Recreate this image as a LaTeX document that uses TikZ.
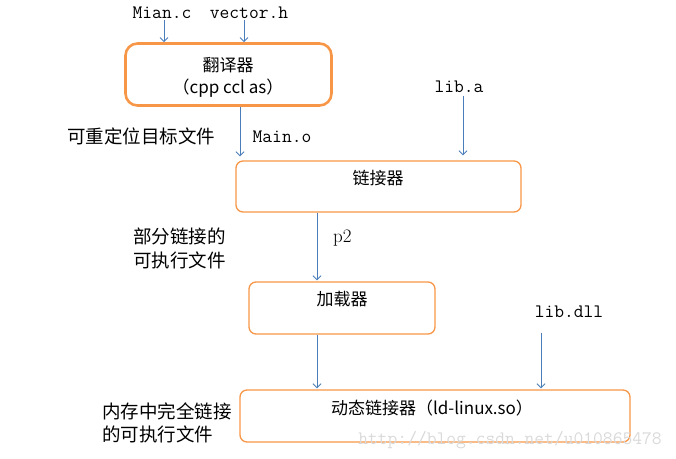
\documentclass[tikz,border=0pt]{standalone}
\usepackage{fontspec}
\newfontfamily\cjk{Noto Sans CJK SC}
\usetikzlibrary{arrows.meta,positioning}
\definecolor{boxorange}{HTML}{F79646}
\definecolor{flowblue}{HTML}{4A7EBB}
\definecolor{markgray}{HTML}{D9D9D9}

\begin{document}
\begin{tikzpicture}[x=1pt,y=-1pt,
  box/.style={draw=boxorange,line width=1.3pt,rounded corners=7pt,inner sep=0pt},
  flow/.style={draw=flowblue,line width=0.9pt,-{Straight Barb[length=4pt,width=8pt]}},
  boxtext/.style={font=\cjk\fontsize{17}{20}\selectfont,inner sep=0pt},
  note/.style={font=\cjk\fontsize{18.5}{23.5}\selectfont,align=left,inner sep=0pt},
  fname/.style={font=\ttfamily\fontsize{19}{22}\selectfont,inner sep=0pt}]
\useasboundingbox (0,0) rectangle (676,458);

\node[box,line width=2.6pt,rounded corners=12pt,minimum width=206pt,minimum height=62pt] (trans) at (228.5,74.5) {};
\node[box,minimum width=285pt,minimum height=51pt] (link) at (378.5,186.5) {};
\node[box,minimum width=186pt,minimum height=52pt] (load) at (342,308) {};
\node[box,minimum width=390pt,minimum height=52pt] (dyn) at (435,416) {};

\node[boxtext] (transname) at (228,65) {翻译器};
\node[boxtext] (transtool) at (228,88) {（cpp ccl as）};
\node[boxtext] (linkname) at (378,178) {链接器};
\node[boxtext] (loadname) at (342,299) {加载器};
\node[boxtext] (dynname) at (432,408) {动态链接器（ld-linux.so）};

\node[fname,anchor=base] (mianc) at (162,18) {Mian.c};
\node[fname,anchor=base] (vectorh) at (249,18) {vector.h};
\node[fname,anchor=base] (maino) at (282,142) {Main.o};
\node[fname,anchor=base] (liba) at (459,92) {lib.a};
\node[fname,anchor=base] (libdll) at (569,317) {lib.dll};
\node[font=\fontsize{19}{22}\selectfont,inner sep=0pt,anchor=base west] (ptwo) at (333,242) {p2};

\node[note,anchor=west] (reloc) at (67,136) {可重定位目标文件};
\node[note,anchor=west] (partial) at (133,248.5) {部分链接的\\可执行文件};
\node[note,anchor=west] (full) at (102,423) {内存中完全链接\\的可执行文件};

\coordinate (axis) at (317,0);
\coordinate (dllin) at (541,333);

\draw[flow,shorten <=2pt] ([xshift=2pt]mianc.south) -- ([xshift=2pt]mianc.south |- trans.north);
\draw[flow,shorten <=2pt] ([xshift=-5pt]vectorh.south) -- ([xshift=-5pt]vectorh.south |- trans.north);
\draw[flow,shorten >=4pt] ([xshift=11.5pt]trans.south) -- ([xshift=11.5pt]trans.south |- link.north);
\draw[flow,shorten <=4pt,shorten >=5pt] ([xshift=4pt]liba.south) -- ([xshift=4pt]liba.south |- link.north);
\draw[flow,shorten >=1pt] (link.south -| axis) -- (load.north -| axis);
\draw[flow,shorten >=1pt] (load.south -| axis) -- (dyn.north -| axis);
\draw[flow,shorten >=1pt] (dllin) -- (dllin |- dyn.north);

\node[fname,anchor=base,text=markgray] (mark) at (510,444) {http://blog.csdn.net/u010865478};
\end{tikzpicture}
\end{document}
